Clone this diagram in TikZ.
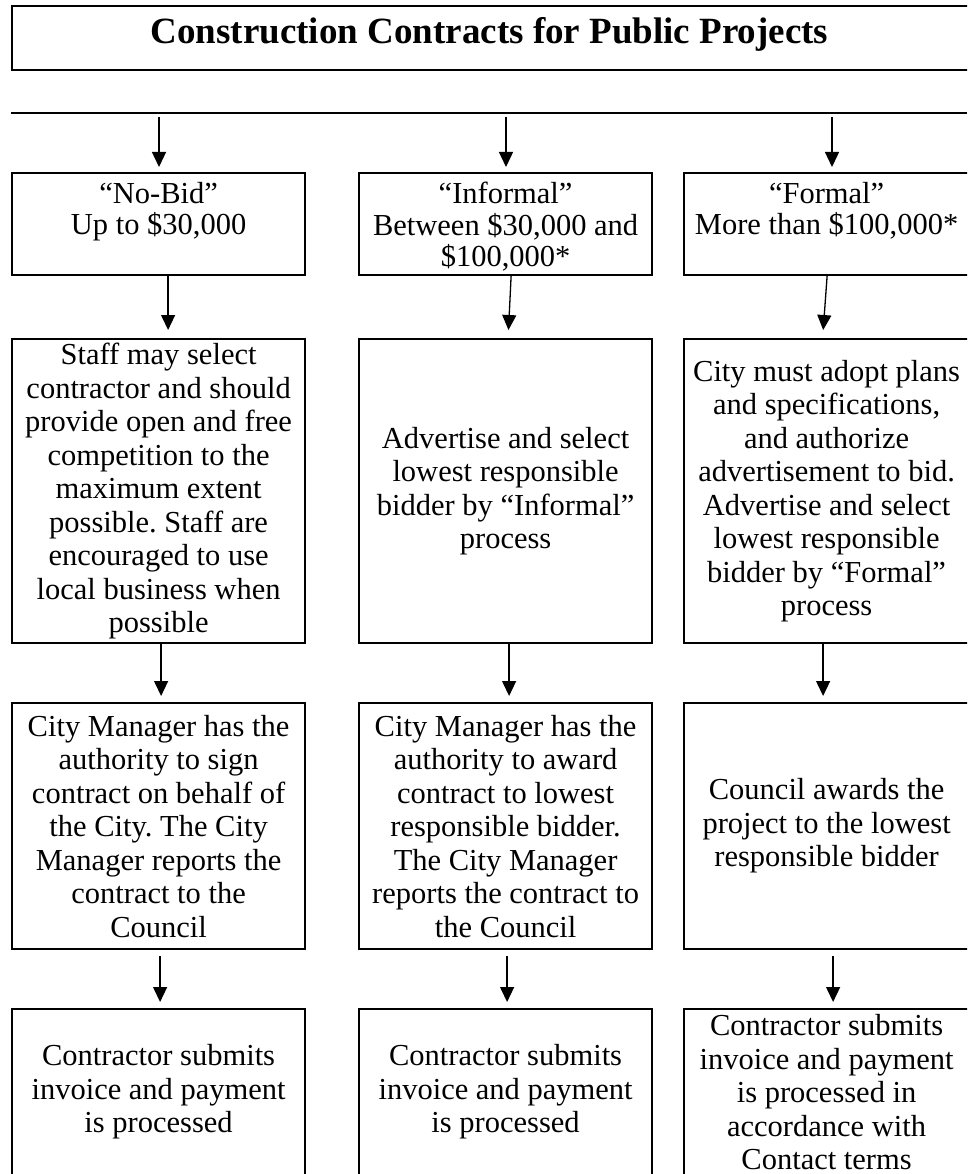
\documentclass[tikz,border=0pt]{standalone}
\usepackage{fontspec}
\setmainfont{Liberation Serif}
\usetikzlibrary{arrows.meta,calc}
\frenchspacing
\begin{document}
\begin{tikzpicture}[x=1pt,y=-1pt,
  box/.style={draw, line width=2.2pt, inner sep=0pt, anchor=north west,
    minimum width=293pt, align=center, font=\fontsize{30.5}{33.5}\selectfont},
  lbl/.style={inner sep=0pt, align=center, font=\fontsize{30.5}{31.5}\selectfont},
  arr/.style={line width=1.3pt, -{Triangle[length=15pt,width=14pt]}},
]
\useasboundingbox (0,0) rectangle (967,1174);
\clip (0,0) rectangle (967,1174);

% title
\node[draw, line width=2.2pt, anchor=north west, minimum width=957pt,
  minimum height=64pt, inner sep=0pt] (title) at (11,5) {};
\node[inner sep=0pt, anchor=base, font=\bfseries\fontsize{37}{40}\selectfont]
  (ttext) at (489.5,44) {Construction Contracts for Public Projects};

% horizontal rule
\coordinate (L) at (11,113);
\coordinate (R) at (967,113);
\draw[line width=2.3pt] (L) -- (R);

% row 1
\node[box, minimum height=102pt] (r1c1) at (11,172) {};
\node[box, minimum height=102pt] (r1c2) at (358,172) {};
\node[box, minimum height=102pt, minimum width=285pt] (r1c3) at (683,172) {};
\node[lbl, anchor=north] (t1a) at ($(r1c1.north)+(0,10)$) {“No-Bid”\\Up to \$30,000};
\node[lbl, anchor=north] (t1b) at ($(r1c2.north)+(0,10)$) {“Informal”\\Between \$30,000 and\\\$100,000*};
\node[lbl, anchor=north] (t1c) at ($(r1c3.north)+(0,10)$) {“Formal”\\More than \$100,000*};

% row 2
\node[box, minimum height=304pt] (r2c1) at (11,338) {Staff may select\\contractor and should\\provide open and free\\competition to the\\maximum extent\\possible. Staff are\\encouraged to use\\local business when\\possible};
\node[box, minimum height=304pt] (r2c2) at (358,338) {Advertise and select\\lowest responsible\\bidder by “Informal”\\process};
\node[box, minimum height=304pt, minimum width=285pt] (r2c3) at (683,338) {City must adopt plans\\and specifications,\\and authorize\\advertisement to bid.\\Advertise and select\\lowest responsible\\bidder by “Formal”\\process};

% row 3
\node[box, minimum height=246pt] (r3c1) at (11,702) {City Manager has the\\authority to sign\\contract on behalf of\\the City. The City\\Manager reports the\\contract to the\\Council};
\node[box, minimum height=246pt] (r3c2) at (358,702) {City Manager has the\\authority to award\\contract to lowest\\responsible bidder.\\The City Manager\\reports the contract to\\the Council};
\node[box, minimum height=246pt, minimum width=285pt] (r3c3) at (683,702) {Council awards the\\project to the lowest\\responsible bidder};

% row 4
\node[box, minimum height=166pt] (r4c1) at (11,1008) {Contractor submits\\invoice and payment\\is processed};
\node[box, minimum height=166pt] (r4c2) at (358,1008) {Contractor submits\\invoice and payment\\is processed};
\node[box, minimum height=166pt, minimum width=285pt] (r4c3) at (683,1008) {Contractor submits\\invoice and payment\\is processed in\\accordance with\\Contact terms};

% arrows from rule
\coordinate (a1) at (159,117);
\coordinate (a2) at (506,117);
\coordinate (a3) at (832,117);
\draw[arr, shorten >=5pt] (a1) -- (a1 |- r1c1.north);
\draw[arr, shorten >=5pt] (a2) -- (a2 |- r1c2.north);
\draw[arr, shorten >=5pt] (a3) -- (a3 |- r1c3.north);

% row 1 -> row 2
\draw[arr, shorten >=8pt] ([xshift=9.5pt]r1c1.south) -- ([xshift=9.5pt]r2c1.north);
\draw[arr, shorten >=8pt] ([xshift=5.5pt]r1c2.south) -- ([xshift=2.5pt]r2c2.north);
\draw[arr, shorten >=8pt] ([xshift=0.5pt]r1c3.south) -- ([xshift=-4pt]r2c3.north);

% row 2 -> row 3
\draw[arr, shorten >=6pt] ([xshift=2.5pt]r2c1.south) -- ([xshift=2.5pt]r3c1.north);
\draw[arr, shorten >=6pt] ([xshift=3.5pt]r2c2.south) -- ([xshift=3.5pt]r3c2.north);
\draw[arr, shorten >=6pt] ([xshift=-3.5pt]r2c3.south) -- ([xshift=-3.5pt]r3c3.north);

% row 3 -> row 4
\draw[arr, shorten <=6pt, shorten >=6pt] ([xshift=1.5pt]r3c1.south) -- ([xshift=1.5pt]r4c1.north);
\draw[arr, shorten <=6pt, shorten >=6pt] ([xshift=1.5pt]r3c2.south) -- ([xshift=1.5pt]r4c2.north);
\draw[arr, shorten <=6pt, shorten >=6pt] ([xshift=6.5pt]r3c3.south) -- ([xshift=6.5pt]r4c3.north);
\end{tikzpicture}
\end{document}
